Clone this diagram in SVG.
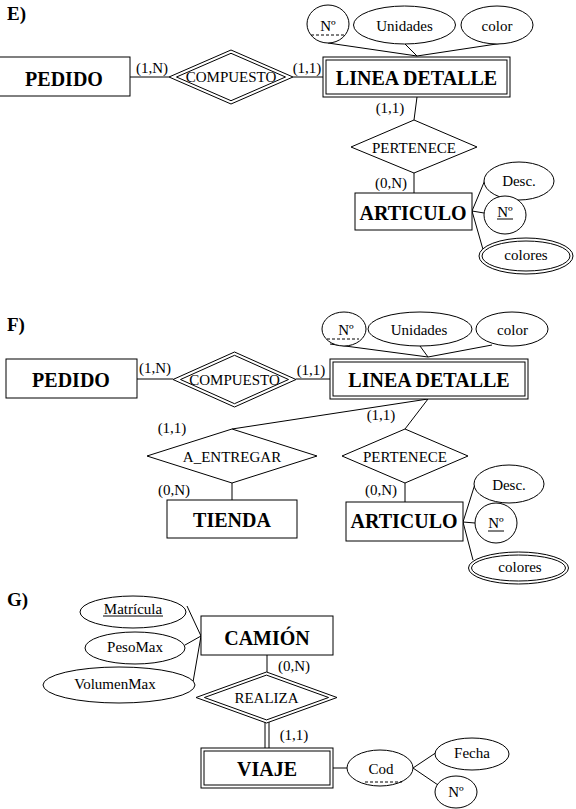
<svg xmlns="http://www.w3.org/2000/svg" width="576" height="809" viewBox="0 0 576 809">
<style>
.s{fill:#fff;stroke:#000;stroke-width:1}
.l{stroke:#000;stroke-width:1;fill:none}
.d{stroke:#000;stroke-width:1;stroke-dasharray:3,2;fill:none}
text{font-family:"Liberation Serif","Times New Roman",serif;font-size:15px;text-anchor:middle;fill:#000}
.b{font-weight:bold;font-size:20px}
.h{font-weight:bold;font-size:19px;text-anchor:start}
</style>
<rect width="576" height="809" fill="#fff"/>
<g id="connectors">
<!-- E -->
<line class="l" x1="130" y1="77" x2="169" y2="77"/>
<line class="l" x1="293" y1="77" x2="323" y2="77"/>
<line class="l" x1="328" y1="43" x2="417" y2="56"/>
<line class="l" x1="405" y1="44" x2="417" y2="56"/>
<line class="l" x1="503" y1="43" x2="417" y2="56"/>
<line class="l" x1="417" y1="97" x2="414" y2="120"/>
<line class="l" x1="414" y1="173" x2="414" y2="193"/>
<line class="l" x1="472" y1="211" x2="485" y2="180"/>
<line class="l" x1="472" y1="211" x2="484" y2="213"/>
<line class="l" x1="472" y1="211" x2="484" y2="253"/>
<!-- F -->
<line class="l" x1="137" y1="379" x2="173" y2="379"/>
<line class="l" x1="296" y1="379" x2="330" y2="379"/>
<line class="l" x1="330" y1="344" x2="428" y2="357"/>
<line class="l" x1="420" y1="346" x2="428" y2="357"/>
<line class="l" x1="492" y1="345" x2="428" y2="357"/>
<line class="l" x1="428" y1="399" x2="232" y2="429"/>
<line class="l" x1="428" y1="399" x2="405" y2="429"/>
<line class="l" x1="232" y1="483" x2="232" y2="500"/>
<line class="l" x1="405" y1="483" x2="405" y2="502"/>
<line class="l" x1="463" y1="522" x2="475" y2="484"/>
<line class="l" x1="463" y1="522" x2="475" y2="523"/>
<line class="l" x1="463" y1="522" x2="473" y2="560"/>
<!-- G -->
<line class="l" x1="187" y1="606" x2="201" y2="636"/>
<line class="l" x1="185" y1="645" x2="201" y2="636"/>
<line class="l" x1="193" y1="682" x2="201" y2="636"/>
<line class="l" x1="267" y1="655" x2="267" y2="672"/>
<line class="l" x1="265" y1="722" x2="265" y2="748"/>
<line class="l" x1="269" y1="722" x2="269" y2="748"/>
<line class="l" x1="333" y1="768" x2="347" y2="768"/>
<line class="l" x1="413" y1="768" x2="437" y2="752"/>
<line class="l" x1="413" y1="768" x2="438" y2="785"/>
</g>
<g id="labels">
<text class="h" x="7" y="20">E)</text>
<text class="h" x="7" y="331">F)</text>
<text class="h" x="7" y="606">G)</text>
<text x="152" y="73">(1,N)</text>
<text x="307" y="73">(1,1)</text>
<text x="390" y="113">(1,1)</text>
<text x="391" y="188">(0,N)</text>
<text x="155" y="373">(1,N)</text>
<text x="311" y="375">(1,1)</text>
<text x="172" y="433">(1,1)</text>
<text x="381" y="420">(1,1)</text>
<text x="174" y="495">(0,N)</text>
<text x="381" y="495">(0,N)</text>
<text x="294" y="671">(0,N)</text>
<text x="294" y="740">(1,1)</text>
</g>
<!-- E nodes -->
<g id="e_pedido"><rect class="s" x="-1" y="57" width="131" height="39"/><text class="b" x="64" y="86">PEDIDO</text></g>
<g id="e_compuesto"><polygon class="s" points="169,77 231,50 293,77 231,104"/><polygon class="s" points="176.5,77 231,53.3 285.5,77 231,100.7"/><text x="231" y="82">COMPUESTO</text></g>
<g id="e_linea"><rect class="s" x="323" y="57" width="187" height="40"/><rect class="s" x="326" y="60" width="181" height="34"/><text class="b" x="416.5" y="85">LINEA DETALLE</text></g>
<g id="e_num"><ellipse class="s" cx="328" cy="24" rx="21" ry="19"/><text x="328" y="31">Nº</text><line class="d" x1="311" y1="35" x2="345" y2="35"/></g>
<g id="e_unidades"><ellipse class="s" cx="404.5" cy="25" rx="51" ry="19"/><text x="404.5" y="31">Unidades</text></g>
<g id="e_color"><ellipse class="s" cx="497" cy="25" rx="36" ry="19"/><text x="497" y="31">color</text></g>
<g id="e_pertenece"><polygon class="s" points="351,147 414,120 477,147 414,173"/><text x="414" y="153">PERTENECE</text></g>
<g id="e_articulo"><rect class="s" x="355" y="193" width="117" height="37"/><text class="b" x="413" y="220">ARTICULO</text></g>
<g id="e_desc"><ellipse class="s" cx="519" cy="181" rx="35" ry="19"/><text x="519" y="186">Desc.</text></g>
<g id="e_numart"><ellipse class="s" cx="505" cy="215" rx="21" ry="19"/><text x="505" y="217">Nº</text><line class="l" x1="497" y1="219" x2="513" y2="219"/></g>
<g id="e_colores"><ellipse class="s" cx="526" cy="256" rx="47" ry="18"/><ellipse class="s" cx="526" cy="256" rx="44" ry="15"/><text x="526" y="260">colores</text></g>
<!-- F nodes -->
<g id="f_pedido"><rect class="s" x="6" y="359" width="131" height="39"/><text class="b" x="71" y="387">PEDIDO</text></g>
<g id="f_compuesto"><polygon class="s" points="173,379.5 234.5,352 296,379.5 234.5,407"/><polygon class="s" points="180.5,379.5 234.5,355.3 288.5,379.5 234.5,403.7"/><text x="234.5" y="385">COMPUESTO</text></g>
<g id="f_linea"><rect class="s" x="330" y="359" width="198" height="40"/><rect class="s" x="333" y="362" width="192" height="34"/><text class="b" x="429" y="387">LINEA DETALLE</text></g>
<g id="f_num"><ellipse class="s" cx="344" cy="329" rx="22" ry="17"/><text x="346" y="335">Nº</text><line class="d" x1="327" y1="339" x2="359" y2="339"/></g>
<g id="f_unidades"><ellipse class="s" cx="420" cy="329" rx="52" ry="17"/><text x="419" y="335">Unidades</text></g>
<g id="f_color"><ellipse class="s" cx="512" cy="329" rx="36" ry="17"/><text x="512.5" y="335">color</text></g>
<g id="f_aentregar"><polygon class="s" points="147,456 232,429 317,456 232,483"/><text x="232" y="462">A_ENTREGAR</text></g>
<g id="f_tienda"><rect class="s" x="167" y="500" width="130" height="38"/><text class="b" x="232" y="527">TIENDA</text></g>
<g id="f_pertenece"><polygon class="s" points="342,456 405,429 468,456 405,483"/><text x="405" y="462">PERTENECE</text></g>
<g id="f_articulo"><rect class="s" x="346" y="502" width="117" height="39"/><text class="b" x="404" y="528">ARTICULO</text></g>
<g id="f_desc"><ellipse class="s" cx="509" cy="484" rx="35" ry="19"/><text x="509" y="490">Desc.</text></g>
<g id="f_numart"><ellipse class="s" cx="496" cy="523" rx="21" ry="20"/><text x="496" y="528">Nº</text><line class="l" x1="488" y1="531" x2="504" y2="531"/></g>
<g id="f_colores"><ellipse class="s" cx="518.5" cy="568" rx="50" ry="16"/><ellipse class="s" cx="518.5" cy="568" rx="47" ry="13"/><text x="520" y="572">colores</text></g>
<!-- G nodes -->
<g id="g_matricula"><ellipse class="s" cx="133" cy="612" rx="53" ry="16"/><text x="133" y="614">Matrícula</text><line class="l" x1="103" y1="616" x2="163" y2="616"/></g>
<g id="g_pesomax"><ellipse class="s" cx="135" cy="648" rx="50" ry="16"/><text x="135" y="652">PesoMax</text></g>
<g id="g_volumenmax"><ellipse class="s" cx="119" cy="685" rx="76" ry="18"/><text x="115" y="689">VolumenMax</text></g>
<g id="g_camion"><rect class="s" x="201" y="616" width="132" height="39"/><text class="b" x="267" y="645">CAMIÓN</text></g>
<g id="g_realiza"><polygon class="s" points="196,697.5 266.5,672 337,697.5 266.5,723"/><polygon class="s" points="204.4,697.5 266.5,675.1 328.6,697.5 266.5,719.9"/><text x="266.5" y="703">REALIZA</text></g>
<g id="g_viaje"><rect class="s" x="201" y="748" width="132" height="40"/><rect class="s" x="204" y="751" width="126" height="34"/><text class="b" x="267" y="776">VIAJE</text></g>
<g id="g_cod"><ellipse class="s" cx="380" cy="768" rx="33" ry="18"/><text x="381" y="774">Cod</text><line class="d" x1="365" y1="782" x2="402" y2="782"/></g>
<g id="g_fecha"><ellipse class="s" cx="472" cy="754" rx="37" ry="16"/><text x="472" y="758">Fecha</text></g>
<g id="g_num"><ellipse class="s" cx="456" cy="792" rx="21" ry="16"/><text x="456" y="797">Nº</text></g>
</svg>
